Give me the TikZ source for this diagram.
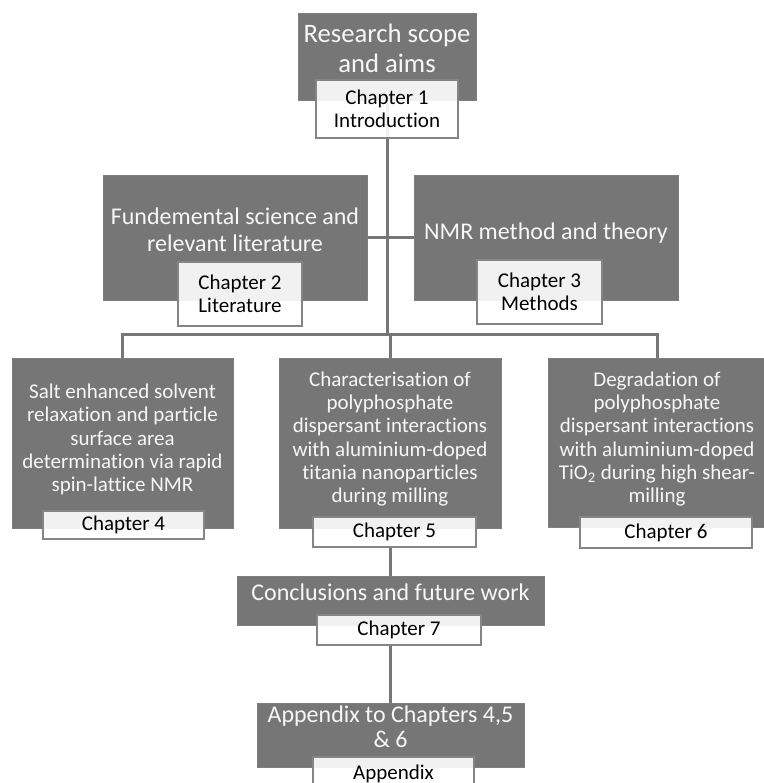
\documentclass[tikz,border=0pt]{standalone}
\usepackage{fontspec}
\setmainfont{Carlito}[Ligatures=NoCommon]
\usetikzlibrary{fit,backgrounds}
\definecolor{boxgray}{HTML}{767676}
\definecolor{boxedge}{HTML}{7E7E7E}
\definecolor{labeledge}{HTML}{858585}
\definecolor{linegray}{HTML}{777777}
\definecolor{darktext}{HTML}{F7F7F7}
\tikzset{
  darkbox/.style={fill=boxgray, draw=boxedge, line width=0.6pt, inner sep=0pt},
  chapbox/.style={fill=white, fill opacity=0.9, text opacity=1, draw=labeledge,
    line width=1.5pt, inner sep=0pt, align=center, text=black,
    font=\fontsize{15.75pt}{17.6pt}\selectfont},
  toptext/.style={text=darktext, align=center, inner sep=0pt},
  bigfont/.style={font=\fontsize{20pt}{22.5pt}\selectfont},
  midfont/.style={font=\fontsize{18pt}{20.25pt}\selectfont},
  smallfont/.style={font=\fontsize{15.75pt}{17.4pt}\selectfont},
  conn/.style={draw=linegray, line width=2.25pt},
}
\begin{document}
\begin{tikzpicture}[x=0.75pt,y=-0.75pt]
\useasboundingbox (0,0) rectangle (764,783);
% dark boxes
\node[darkbox, fit={(298,13) (476,100)}] (B1) {};
\node[darkbox, fit={(103,175) (367,300)}] (B2) {};
\node[darkbox, fit={(414,175) (678,300)}] (B3) {};
\node[darkbox, fit={(12,358) (233,528)}] (B4) {};
\node[darkbox, fit={(279,358) (501,528)}] (B5) {};
\node[darkbox, fit={(548,358) (766,527)}] (B6) {};
\node[darkbox, fit={(237,576) (544,625)}] (B7) {};
\node[darkbox, fit={(257,703) (524,767)}] (B8) {};
% texts of dark boxes
\node[toptext, bigfont] (T1) at (387,48.5) {Research scope\\and aims};
\node[toptext, midfont] (T2) at (235,230) {Fundemental science and\\relevant literature};
\node[toptext, midfont] (T3) at (546,233) {NMR method and theory};
\node[toptext, smallfont] (T4) at (122.5,439.5) {Salt enhanced solvent\\relaxation and particle\\surface area\\determination via rapid\\spin-lattice NMR};
\node[toptext, smallfont] (T5) at (390,439) {Characterisation of\\polyphosphate\\dispersant interactions\\with aluminium-doped\\titania nanoparticles\\during milling};
\node[toptext, smallfont] (T6) at (657,439) {Degradation of\\polyphosphate\\dispersant interactions\\with aluminium-doped\\TiO\textsubscript{2} during high shear-\\milling};
\node[toptext, midfont] (T7) at (390.5,592.5) {Conclusions and future work};
\node[toptext, font=\fontsize{18pt}{18.75pt}\selectfont] (T8) at (390.5,727) {Appendix to Chapters 4,5\\\& 6};
% chapter labels
\node[chapbox, minimum width=106.5pt, minimum height=43.5pt] (C1) at (387,109) {Chapter 1\\Introduction};
\node[chapbox, minimum width=93pt, minimum height=48pt] (C2) at (240,294) {Chapter 2\\Literature};
\node[chapbox, minimum width=93.75pt, minimum height=48pt] (C3) at (539.5,292) {Chapter 3\\Methods};
\node[chapbox, minimum width=120.75pt, minimum height=21pt] (C4) at (123.5,525) {Chapter 4};
\node[chapbox, minimum width=122.25pt, minimum height=22.5pt] (C5) at (394.5,532) {Chapter 5};
\node[chapbox, minimum width=129pt, minimum height=23.25pt] (C6) at (666,532.5) {Chapter 6};
\node[chapbox, minimum width=123pt, minimum height=22.5pt] (C7) at (399,630) {Chapter 7};
\node[chapbox, minimum width=120.75pt, minimum height=24.75pt] (C8) at (393.5,773.5) {Appendix};
% connectors
\coordinate (bus) at (387,334);
\begin{scope}[on background layer]
\fill[white] (0,0) rectangle (764,783);
\draw[conn] (B1.south) -- (bus);
\draw[conn] (B2.east) -- (B3.west);
\draw[conn] (B4.north) -- (B4.north |- bus) -- (B6.north |- bus) -- (B6.north);
\draw[conn] (B5.north) -- (B5.north |- bus);
\draw[conn] (C5.south -| B7.north) -- (B7.north);
\draw[conn] (C7.south -| B8.north) -- (B8.north);
\end{scope}
\end{tikzpicture}
\end{document}
